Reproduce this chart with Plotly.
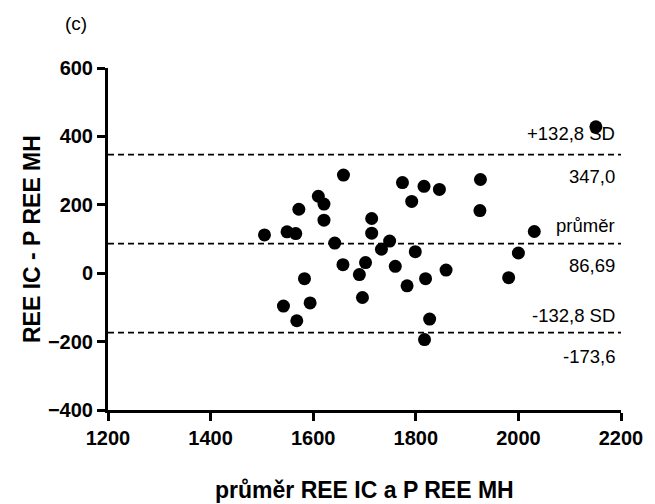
import plotly.graph_objects as go

# Bland-Altman data: mean of the two methods (x) vs. their difference (y)
prumer_x = [1505, 1549, 1566, 1572, 1610, 1621, 1621, 1642, 1659, 1714,
            1714, 1749, 1733, 1702, 1690, 1658, 1760, 1799, 1783, 1819,
            1859, 1696, 1827, 1817, 1774, 1816, 1846, 1792, 1926, 1925,
            2031, 2000, 1981, 2151, 1583, 1594, 1542, 1568]
rozdil_y = [112, 121, 116, 187, 225, 202, 155, 88, 287, 160,
            117, 94, 70, 31, -4, 25, 20, 63, -37, -16,
            9, -71, -134, -194, 265, 254, 245, 210, 274, 183,
            122, 59, -13, 428, -16, -87, -96, -139]

# Bias and limits of agreement
bias = 86.69
sd_label = "132,8"
upper_loa = 347.0
lower_loa = -173.6

x_ticks = [1200, 1400, 1600, 1800, 2000, 2200]
y_ticks = [-400, -200, 0, 200, 400, 600]

FONT = "Liberation Sans, Arial, sans-serif"


def cz(v, nd):
    return f"{v:.{nd}f}".replace(".", ",")


fig = go.Figure()

# reference lines (dashed)
for yv in (upper_loa, bias, lower_loa):
    fig.add_trace(go.Scatter(
        x=[x_ticks[0], x_ticks[-1]], y=[yv, yv], mode="lines",
        line=dict(color="black", width=1.8, dash="6px,4px"),
        hoverinfo="skip", showlegend=False))

fig.add_trace(go.Scatter(
    x=prumer_x, y=rozdil_y, mode="markers",
    marker=dict(color="black", size=13, line=dict(width=0)),
    showlegend=False))

ann_font = dict(family=FONT, size=18.5, color="black")
lab_x = 2193
labels = [
    (f"+{sd_label} SD", upper_loa + 62),
    (cz(upper_loa, 1), upper_loa - 63),
    ("průměr", bias + 52),
    (cz(bias, 2), bias - 64),
    (f"-{sd_label} SD", lower_loa + 51),
    (cz(lower_loa, 1), lower_loa - 70),
]
for txt, yv in labels:
    fig.add_annotation(x=lab_x, y=yv, xref="x", yref="y", text=txt,
                       showarrow=False, xanchor="right", yanchor="middle",
                       font=ann_font)

# axis titles and panel letter
fig.add_annotation(xref="paper", yref="paper", x=0.5, y=0, yshift=-80,
                   text="průměr REE IC a P REE MH", showarrow=False,
                   xanchor="center", yanchor="middle",
                   font=dict(family=FONT, size=23, color="black", weight="bold"))
fig.add_annotation(xref="paper", yref="paper", x=0, y=0.5, xshift=-76,
                   text="REE IC - P REE MH", showarrow=False, textangle=-90,
                   xanchor="center", yanchor="middle",
                   font=dict(family=FONT, size=23, color="black", weight="bold"))
fig.add_annotation(xref="paper", yref="paper", x=0, y=1, xshift=-32, yshift=45,
                   text="(c)", showarrow=False, xanchor="center", yanchor="middle",
                   font=dict(family=FONT, size=19, color="black"))

axis_common = dict(
    showgrid=False, zeroline=False, showline=True, linecolor="black",
    linewidth=3, ticks="outside", ticklen=8, tickwidth=2.5, tickcolor="black",
    tickfont=dict(family=FONT, size=20, color="black", weight="bold"),
)
fig.update_xaxes(range=[1200, 2200], tickvals=x_ticks, **axis_common)
fig.update_yaxes(range=[-400, 600], tickvals=y_ticks, **axis_common)

fig.update_layout(
    width=655, height=504,
    margin=dict(l=108, r=27, t=68, b=94),
    plot_bgcolor="white", paper_bgcolor="white",
)

fig.write_html("out.html")
